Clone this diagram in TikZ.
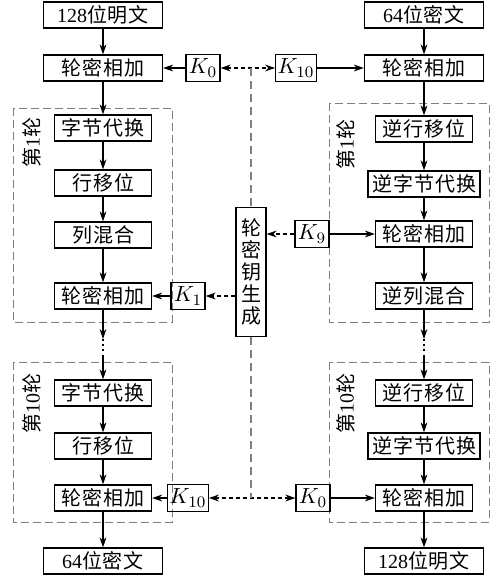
\documentclass[tikz,border=0pt]{standalone}
\usepackage{fontspec}
\setmainfont{Liberation Serif}
\newfontfamily\cjk[LetterSpace=5]{Noto Sans CJK SC}
\newcommand{\dig}[1]{{\rmfamily #1}}
\usetikzlibrary{positioning, arrows.meta}
\tikzset{
  x=0.5pt, y=-0.5pt,
  >={Stealth[length=5pt,width=3.4pt]},
  every node/.style={font=\cjk\fontsize{10}{11}\selectfont},
  box/.style={draw, line width=0.6pt, minimum height=13pt, inner xsep=2pt, inner ysep=0pt},
  iobox/.style={box, minimum width=59.5pt},
  stepbox/.style={box, minimum width=48.5pt},
  keybox/.style={box, minimum width=17pt, minimum height=13.5pt, inner xsep=1pt,
                 font=\fontsize{11}{12}\selectfont},
  roundbox/.style={draw=gray, dash pattern=on 4pt off 2pt, line width=0.5pt},
  roundlabel/.style={rotate=90, anchor=east, inner sep=0pt},
  flow/.style={->, line width=0.6pt},
  dots/.style={line width=1pt, dash pattern=on 1pt off 1.6pt},
  keyline/.style={line width=0.6pt, dash pattern=on 2pt off 1.5pt},
  genline/.style={draw=gray, line width=0.6pt, dash pattern=on 4pt off 2.5pt},
}

\begin{document}
\begin{tikzpicture}
  \useasboundingbox (0,0) rectangle (500,578);

  % round frames
  \draw[roundbox] (13,108) rectangle (172,322);
  \draw[roundbox] (13,362) rectangle (172,522);
  \draw[roundbox] (329,103) rectangle (489,322);
  \draw[roundbox] (329,362) rectangle (489,522);
  \node[roundlabel] (l1)  at (32,117)  {第\dig{1}轮};
  \node[roundlabel] (l10) at (32,373)  {第\dig{10}轮};
  \node[roundlabel] (r1)  at (346,119) {第\dig{1}轮};
  \node[roundlabel] (r10) at (346,373) {第\dig{10}轮};

  % encryption
  \node[iobox]   (plain)  at (103,15)  {\dig{128}位明文};
  \node[iobox]   (add0)   at (103,68)  {轮密相加};
  \node[stepbox] (sub1)   at (103,128) {字节代换};
  \node[stepbox] (shift1) at (103,183) {行移位};
  \node[stepbox] (mix1)   at (103,235) {列混合};
  \node[stepbox] (add1)   at (103,296) {轮密相加};
  \node[stepbox] (sub10)  at (103,393) {字节代换};
  \node[stepbox] (shift10) at (103,446) {行移位};
  \node[stepbox] (add10)  at (103,498) {轮密相加};
  \node[iobox]   (cipher) at (103,561) {\dig{64}位密文};

  % decryption
  \node[iobox]   (dcipher) at (424,15)  {\dig{64}位密文};
  \node[iobox]   (dadd0)   at (424,68)  {轮密相加};
  \node[stepbox] (dshift1) at (424,129) {逆行移位};
  \node[box]     (dsub1)   at (424,184) {逆字节代换};
  \node[stepbox] (dadd1)   at (424,234) {轮密相加};
  \node[stepbox] (dmix1)   at (424,296) {逆列混合};
  \node[stepbox] (dshift10) at (424,393) {逆行移位};
  \node[box]     (dsub10)  at (424,446) {逆字节代换};
  \node[stepbox] (dadd10)  at (424,498) {轮密相加};
  \node[iobox]   (dplain)  at (424,561) {\dig{128}位明文};

  % keys
  \node[box, minimum width=15pt, minimum height=64.5pt, align=center, inner sep=0pt]
        (keygen) at (251,272) {轮\\密\\钥\\生\\成};
  \node[keybox] (k0)   at (203,68)  {$K_{0}$};
  \node[keybox] (k10)  at (296,68)  {$K_{10}$};
  \node[keybox] (k9)   at (312,234) {$K_{9}$};
  \node[keybox] (k1)   at (188,296) {$K_{1}$};
  \node[keybox] (k10b) at (188,498) {$K_{10}$};
  \node[keybox] (k0b)  at (313,498) {$K_{0}$};

  \coordinate (gtop) at (251,68);
  \coordinate (gbot) at (251,498);
  \coordinate (ldotA) at (103,339);
  \coordinate (ldotB) at (103,355);
  \coordinate (rdotA) at (424,339);
  \coordinate (rdotB) at (424,355);

  % data flow
  \draw[flow] (plain) -- (add0);
  \draw[flow] (add0) -- (sub1);
  \draw[flow] (sub1) -- (shift1);
  \draw[flow] (shift1) -- (mix1);
  \draw[flow] (mix1) -- (add1);
  \draw[flow] (add1) -- (ldotA);
  \draw[dots] (ldotA) -- (ldotB);
  \draw[flow] (ldotB) -- (sub10);
  \draw[flow] (sub10) -- (shift10);
  \draw[flow] (shift10) -- (add10);
  \draw[flow] (add10) -- (cipher);

  \draw[flow] (dcipher) -- (dadd0);
  \draw[flow] (dadd0) -- (dshift1);
  \draw[flow] (dshift1) -- (dsub1);
  \draw[flow] (dsub1) -- (dadd1);
  \draw[flow] (dadd1) -- (dmix1);
  \draw[flow] (dmix1) -- (rdotA);
  \draw[dots] (rdotA) -- (rdotB);
  \draw[flow] (rdotB) -- (dshift10);
  \draw[flow] (dshift10) -- (dsub10);
  \draw[flow] (dsub10) -- (dadd10);
  \draw[flow] (dadd10) -- (dplain);

  % key flow
  \draw[flow] (k0) -- (add0);
  \draw[flow] (k10) -- (dadd0);
  \draw[flow] (k9) -- (dadd1);
  \draw[flow] (k1) -- (add1);
  \draw[flow] (k10b) -- (add10);
  \draw[flow] (k0b) -- (dadd10);
  \draw[keyline, <->] (k0) -- (k10);
  \draw[keyline, <->] (k10b) -- (k0b);
  \draw[keyline, ->] (k9.west) -- (k9.west -| keygen.east);
  \draw[keyline, ->] (k1.east -| keygen.west) -- (k1.east);
  \draw[genline] (gtop) -- (keygen);
  \draw[genline] (keygen) -- (gbot);
\end{tikzpicture}
\end{document}
